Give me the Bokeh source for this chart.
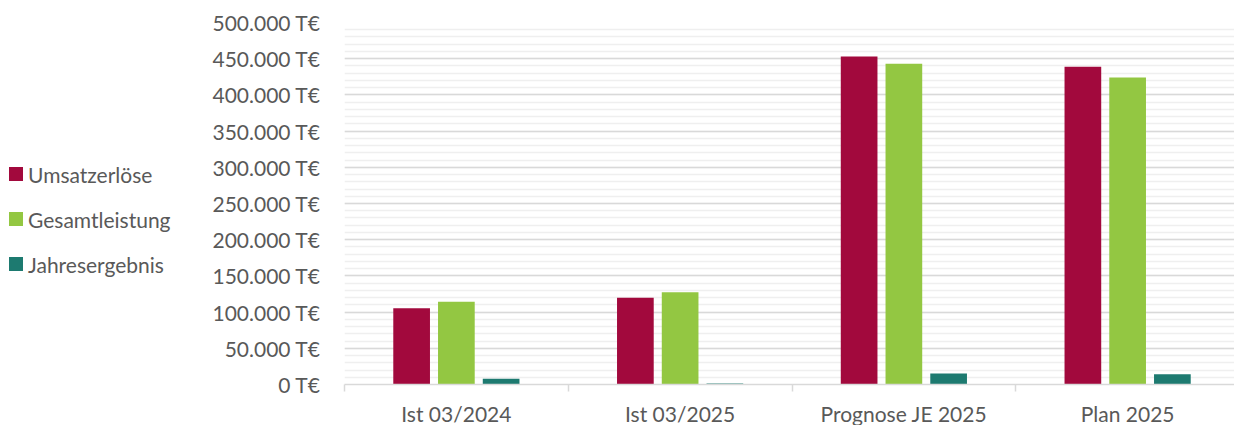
from bokeh.plotting import figure
from bokeh.layouts import row
from bokeh.models import (FactorRange, Range1d, LinearAxis, CategoricalAxis, FixedTicker,
                          SingleIntervalTicker, ColumnDataSource, Div)
from bokeh.transform import dodge
from bokeh.embed import file_html
from bokeh.resources import INLINE

categories = ["Ist 03/2024", "Ist 03/2025", "Prognose JE 2025", "Plan 2025"]
series = ["Umsatzerlöse", "Gesamtleistung", "Jahresergebnis"]
umsatzerloese = [105400, 119700, 453000, 439000]
gesamtleistung = [114200, 127500, 443000, 424000]
jahresergebnis = [7800, 1500, 15200, 14200]
colors = ["#A2093D", "#93C742", "#1D7A70"]
y_ticks = [0, 50000, 100000, 150000, 200000, 250000, 300000, 350000, 400000, 450000, 500000]
y_tick_labels = ["0 T€", "50.000 T€", "100.000 T€", "150.000 T€", "200.000 T€", "250.000 T€",
                 "300.000 T€", "350.000 T€", "400.000 T€", "450.000 T€", "500.000 T€"]

FONT = "Lato"
TXT = "#595959"
FS = "21px"

src = ColumnDataSource(dict(cat=categories, u=umsatzerloese, g=gesamtleistung, j=jahresergebnis))

p = figure(x_range=FactorRange(factors=categories, range_padding=0),
           y_range=Range1d(0, 500000),
           frame_width=895, frame_height=362,
           min_border_left=130, min_border_top=22, min_border_right=0, min_border_bottom=0,
           output_backend="svg", toolbar_location=None,
           x_axis_location=None, y_axis_location=None)
p.outline_line_color = None
p.background_fill_color = "white"
p.border_fill_color = "white"

# y axis
yax = LinearAxis(ticker=SingleIntervalTicker(interval=50000, num_minor_ticks=5))
yax.axis_line_color = None
yax.major_tick_line_color = None
yax.minor_tick_line_color = None
yax.major_tick_out = 0
yax.minor_tick_out = 0
yax.major_label_standoff = 24
yax.major_label_text_font = FONT
yax.major_label_text_font_size = FS
yax.major_label_text_color = TXT
yax.major_label_overrides = {v: l for v, l in zip(y_ticks, y_tick_labels)}
p.add_layout(yax, "left")

# boundary ticks axis (category separators, synthetic coordinates 0..n)
tax = LinearAxis(ticker=FixedTicker(ticks=list(range(len(categories) + 1))))
tax.axis_line_color = "#d9d9d9"
tax.axis_line_width = 1.5
tax.major_tick_line_color = "#d9d9d9"
tax.major_tick_line_width = 1.5
tax.major_tick_in = 0
tax.major_tick_out = 7
tax.minor_tick_line_color = None
tax.major_label_overrides = {i: "" for i in range(len(categories) + 1)}
tax.major_label_text_font_size = "1px"
tax.major_label_standoff = 0
p.add_layout(tax, "below")

# category labels axis
cax = CategoricalAxis()
cax.axis_line_color = None
cax.major_tick_line_color = None
cax.minor_tick_line_color = None
cax.major_tick_out = 0
cax.major_label_standoff = 9
cax.major_label_text_font = FONT
cax.major_label_text_font_size = FS
cax.major_label_text_color = TXT
p.add_layout(cax, "below")

# grid
p.xgrid.grid_line_color = None
p.ygrid.ticker = yax.ticker
p.ygrid.grid_line_color = "#d9d9d9"
p.ygrid.grid_line_width = 1.5
p.ygrid.minor_grid_line_color = "#efefef"
p.ygrid.minor_grid_line_width = 1.5

bw = 0.164
offs = [-0.2, 0.0, 0.2]
cols = ["u", "g", "j"]
for c, off, col in zip(cols, offs, colors):
    p.vbar(x=dodge("cat", off, range=p.x_range), top=c, bottom=0, width=bw,
           source=src, fill_color=col, line_color=None)

# legend on the left, as HTML
row_tops = [162, 207, 252]
items_html = ""
for s, col, t in zip(series, colors, row_tops):
    items_html += (
        f'<div style="position:absolute;left:9px;top:{t + 5}px;width:14px;height:14px;'
        f'background:{col};"></div>'
        f'<div style="position:absolute;left:28px;top:{t}px;height:25px;line-height:25px;'
        f'font-family:{FONT};font-size:{FS};color:{TXT};white-space:nowrap;">{s}</div>'
    )
legend_div = Div(text=f'<div style="position:relative;width:209px;height:425px;">{items_html}</div>',
                 width=209, height=425, margin=0)

layout = row(legend_div, p, spacing=0)

open("out.html", "w").write(file_html(layout, INLINE))
